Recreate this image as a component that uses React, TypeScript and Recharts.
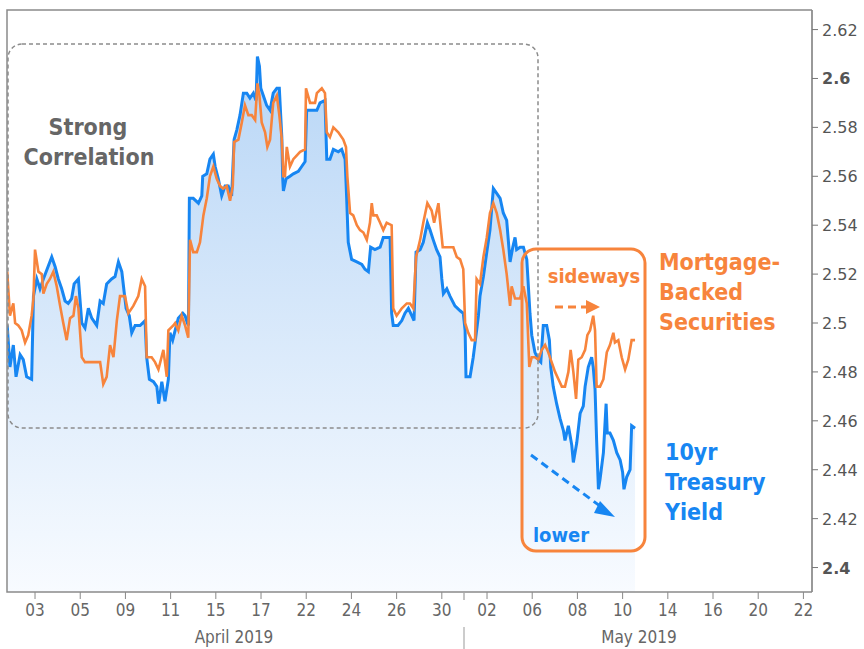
import { ComposedChart, Area, Line, XAxis, YAxis } from 'recharts';

// trading-day labels, index 0 = Apr 1 2019 (Good Friday Apr 19 closed)
const tradingDays = [
  '01', '02', '03', '04', '05', '08', '09', '10', '11', '12',
  '15', '16', '17', '18', '22', '23', '24', '25', '26', '29', '30',
  '01', '02', '03', '06', '07', '08', '09', '10', '13', '14', '15', '16', '17', '20', '21', '22',
];
const dayTicks = [2, 4, 6, 8, 10, 12, 14, 16, 18, 20, 22, 24, 26, 28, 30, 32, 34, 36];
const yieldTicks = [2.4, 2.42, 2.44, 2.46, 2.48, 2.5, 2.52, 2.54, 2.56, 2.58, 2.6, 2.62];

// 10yr Treasury yield (position in trading days, yield)
const tsyTime = [
  0.77, 0.89, 1.04, 1.16, 1.34, 1.48, 1.63, 1.85, 1.93, 2.08, 2.22, 2.37, 2.74, 2.89, 3.03, 3.18,
  3.33, 3.47, 3.62, 3.73, 3.92, 4.07, 4.21, 4.36, 4.51, 4.73, 4.88, 5.02, 5.17, 5.39, 5.54, 5.69,
  5.84, 5.94, 6.03, 6.17, 6.28, 6.43, 6.65, 6.87, 6.94, 7.06, 7.24, 7.39, 7.47, 7.61, 7.75, 7.9,
  7.97, 8.09, 8.2, 8.34, 8.54, 8.64, 8.74, 8.79, 8.83, 9.0, 9.23, 9.38, 9.42, 9.6, 9.74, 9.89,
  9.97, 10.11, 10.26, 10.41, 10.55, 10.7, 10.81, 10.93, 11.07, 11.22, 11.37, 11.51, 11.66, 11.78,
  11.84, 11.93, 11.99, 12.1, 12.25, 12.4, 12.54, 12.7, 12.81, 12.87, 12.92, 12.96, 12.99, 13.11,
  13.28, 13.43, 13.65, 13.8, 13.95, 14.02, 14.24, 14.47, 14.61, 14.83, 14.91, 15.05, 15.2, 15.42,
  15.57, 15.72, 15.79, 15.86, 16.01, 16.24, 16.46, 16.6, 16.75, 16.85, 17.04, 17.27, 17.41, 17.71,
  17.78, 17.85, 18.06, 18.23, 18.37, 18.52, 18.67, 18.77, 18.86, 19.04, 19.18, 19.36, 19.48, 19.62,
  19.77, 19.92, 20.0, 20.07, 20.22, 20.36, 20.58, 20.81, 20.95, 21.03, 21.07, 21.25, 21.39, 21.54,
  21.62, 21.69, 21.84, 21.99, 22.13, 22.28, 22.43, 22.58, 22.72, 22.87, 23.02, 23.14, 23.24, 23.31,
  23.46, 23.61, 23.76, 23.9, 23.98, 24.12, 24.27, 24.38, 24.49, 24.64, 24.76, 24.82, 24.93, 25.08,
  25.23, 25.38, 25.45, 25.6, 25.75, 25.82, 25.97, 26.12, 26.26, 26.34, 26.48, 26.63, 26.7, 26.78,
  26.85, 26.93, 27.0, 27.15, 27.27, 27.32, 27.44, 27.59, 27.74, 27.89, 28.0, 28.06, 28.18, 28.33,
  28.4, 28.55,
];
const tsyYield = [
  2.499, 2.482, 2.491, 2.478, 2.487, 2.485, 2.478, 2.477, 2.511, 2.518, 2.514, 2.518, 2.527, 2.523, 2.518, 2.514,
  2.509, 2.508, 2.51, 2.516, 2.518, 2.5, 2.498, 2.506, 2.502, 2.499, 2.509, 2.508, 2.516, 2.518, 2.519, 2.525,
  2.521, 2.513, 2.506, 2.503, 2.496, 2.499, 2.499, 2.501, 2.486, 2.477, 2.476, 2.474, 2.467, 2.476, 2.468, 2.477,
  2.496, 2.493, 2.497, 2.502, 2.504, 2.503, 2.5, 2.499, 2.551, 2.551, 2.549, 2.552, 2.56, 2.561, 2.567, 2.569,
  2.564, 2.559, 2.552, 2.556, 2.556, 2.552, 2.575, 2.579, 2.585, 2.594, 2.594, 2.592, 2.594, 2.591,
  2.609, 2.605, 2.596, 2.593, 2.589, 2.587, 2.594, 2.596, 2.596, 2.585, 2.576, 2.559, 2.554, 2.559,
  2.56, 2.561, 2.562, 2.564, 2.566, 2.587, 2.587, 2.587, 2.59, 2.591, 2.567, 2.567, 2.571, 2.57,
  2.571, 2.567, 2.551, 2.533, 2.526, 2.525, 2.524, 2.522, 2.521, 2.531, 2.53, 2.531, 2.535, 2.535,
  2.504, 2.499, 2.499, 2.501, 2.504, 2.506, 2.503, 2.501, 2.529, 2.53, 2.533, 2.541, 2.538, 2.534,
  2.53, 2.527, 2.518, 2.512, 2.514, 2.511, 2.507, 2.505, 2.504, 2.497, 2.478, 2.478, 2.486, 2.497,
  2.503, 2.511, 2.519, 2.529, 2.538, 2.555, 2.553, 2.551, 2.545, 2.542, 2.525, 2.531, 2.535, 2.53,
  2.531, 2.531, 2.526, 2.504, 2.495, 2.488, 2.485, 2.484, 2.499, 2.499, 2.493, 2.482, 2.474, 2.467,
  2.461, 2.456, 2.452, 2.458, 2.45, 2.443, 2.451, 2.463, 2.466, 2.474, 2.482, 2.486, 2.482, 2.473,
  2.452, 2.432, 2.436, 2.447, 2.467, 2.455, 2.455, 2.452, 2.447, 2.444, 2.439, 2.432, 2.437, 2.44,
  2.458, 2.457,
];

// Mortgage-backed securities (same scale)
const mbsTime = [
  0.77, 0.89, 1.04, 1.12, 1.26, 1.41, 1.56, 1.7, 1.85, 1.93, 2.0, 2.15, 2.3, 2.37, 2.52, 2.66,
  2.81, 2.96, 3.11, 3.25, 3.4, 3.55, 3.7, 3.81, 3.92, 4.07, 4.21, 4.43, 4.88, 5.02, 5.17, 5.32,
  5.47, 5.62, 5.76, 5.98, 6.13, 6.35, 6.57, 6.72, 6.87, 6.94, 7.16, 7.31, 7.46, 7.68, 7.83, 7.9,
  8.12, 8.2, 8.34, 8.49, 8.64, 8.78, 8.86, 9.0, 9.16, 9.3, 9.45, 9.6, 9.74, 9.89, 10.04, 10.19,
  10.33, 10.48, 10.63, 10.75, 10.81, 11.0, 11.15, 11.29, 11.44, 11.59, 11.74, 11.84, 11.93, 12.03,
  12.18, 12.28, 12.4, 12.54, 12.7, 12.81, 12.92, 12.99, 13.06, 13.14, 13.28, 13.43, 13.73, 13.95,
  13.99, 14.17, 14.39, 14.47, 14.69, 14.83, 14.91, 15.05, 15.2, 15.42, 15.64, 15.76, 15.82, 15.94,
  16.08, 16.24, 16.38, 16.53, 16.68, 16.82, 16.9, 16.97, 17.12, 17.27, 17.41, 17.56, 17.78, 17.85,
  18.0, 18.23, 18.45, 18.59, 18.74, 18.86, 19.04, 19.18, 19.36, 19.55, 19.66, 19.85, 19.92, 20.04,
  20.22, 20.51, 20.66, 20.81, 20.95, 21.03, 21.17, 21.32, 21.47, 21.54, 21.69, 21.84, 21.99, 22.13,
  22.28, 22.43, 22.58, 22.72, 22.87, 23.02, 23.09, 23.24, 23.46, 23.61, 23.76, 23.87, 23.98, 24.12,
  24.27, 24.42, 24.57, 24.71, 24.86, 25.01, 25.16, 25.31, 25.45, 25.6, 25.7, 25.82, 25.94, 26.04,
  26.19, 26.34, 26.44, 26.56, 26.7, 26.78, 26.85, 27.0, 27.15, 27.3, 27.44, 27.59, 27.66, 27.81,
  27.96, 28.11, 28.25, 28.4, 28.55,
];
const mbsLevel = [
  2.521, 2.503, 2.508, 2.5, 2.499, 2.497, 2.492, 2.495, 2.503, 2.51, 2.53, 2.521, 2.52, 2.512, 2.516, 2.518,
  2.521, 2.515, 2.507, 2.5, 2.493, 2.502, 2.503, 2.511, 2.506, 2.486, 2.484, 2.484, 2.484, 2.475, 2.478, 2.491,
  2.486, 2.501, 2.511, 2.511, 2.504, 2.507, 2.511, 2.518, 2.515, 2.486, 2.486, 2.484, 2.481, 2.489, 2.478, 2.497,
  2.499, 2.5, 2.497, 2.503, 2.499, 2.494, 2.534, 2.529, 2.529, 2.533, 2.544, 2.551, 2.56, 2.564, 2.559, 2.556,
  2.555, 2.556, 2.55, 2.556, 2.574, 2.575, 2.582, 2.589, 2.585, 2.585, 2.583, 2.598, 2.593, 2.582,
  2.578, 2.572, 2.575, 2.59, 2.593, 2.585, 2.575, 2.56, 2.56, 2.572, 2.564, 2.567, 2.57, 2.571,
  2.596, 2.59, 2.59, 2.594, 2.596, 2.594, 2.578, 2.576, 2.58, 2.578, 2.575, 2.572, 2.56, 2.545,
  2.544, 2.54, 2.538, 2.537, 2.534, 2.541, 2.549, 2.544, 2.544, 2.541, 2.538, 2.541, 2.54, 2.506,
  2.503, 2.506, 2.508, 2.508, 2.506, 2.527, 2.534, 2.541, 2.549, 2.546, 2.541, 2.549, 2.542, 2.531,
  2.531, 2.531, 2.527, 2.526, 2.522, 2.5, 2.496, 2.493, 2.493, 2.518, 2.516, 2.527, 2.535, 2.545,
  2.549, 2.545, 2.538, 2.53, 2.52, 2.507, 2.515, 2.51, 2.51, 2.515, 2.508, 2.482, 2.486, 2.486,
  2.485, 2.489, 2.491, 2.488, 2.484, 2.48, 2.477, 2.474, 2.474, 2.48, 2.489, 2.48, 2.469, 2.485,
  2.486, 2.489, 2.495, 2.497, 2.503, 2.497, 2.474, 2.474, 2.477, 2.488, 2.491, 2.496, 2.492, 2.493,
  2.486, 2.481, 2.485, 2.493, 2.493,
];

const tsyData = tsyTime.map((t, i) => ({ t, v: tsyYield[i] }));
const mbsData = mbsTime.map((t, i) => ({ t, v: mbsLevel[i] }));

const BLUE = '#1786f2';
const ORANGE = '#f7843c';
const AXIS_FONT = "'DejaVu Sans', sans-serif";
const NARROW_FONT = "'DejaVu Sans Condensed', 'Liberation Sans Narrow', 'DejaVu Sans', sans-serif";
const LABEL_FONT = "'DejaVu Sans Condensed', 'DejaVu Sans', sans-serif";

const YTick = (props: any) => {
  const { x, y, payload } = props;
  const v = Number(payload.value.toFixed(2));
  const bold = v === 2.6 || v === 2.4;
  return (
    <text x={x} y={y} dy={6} textAnchor="start" fill="#555" fontSize={16}
      fontFamily={AXIS_FONT} fontWeight={bold ? 'bold' : 'normal'}>
      {String(v)}
    </text>
  );
};

const XTick = (props: any) => {
  const { x, y, payload } = props;
  return (
    <text x={x} y={y} dy={13} textAnchor="middle" fill="#666" fontSize={17}
      fontFamily={NARROW_FONT} style={{ fontStretch: 'condensed' }}>
      {tradingDays[payload.value]}
    </text>
  );
};

export default function App() {
  return (
    <div style={{ position: 'relative', width: 864, height: 649, background: '#fff' }}>
      <style>{'body{margin:0}'}</style>
      <ComposedChart width={864} height={649} margin={{ top: 10, right: 0, bottom: 0, left: 7 }}>
        <defs>
          <linearGradient id="tsyFill" x1="0" y1="0" x2="0" y2="1">
            <stop offset="0%" stopColor="#b8d6f6" />
            <stop offset="100%" stopColor="#f8fbff" />
          </linearGradient>
        </defs>
        <XAxis type="number" dataKey="t" domain={[0.76, 36.38]} allowDataOverflow
          ticks={dayTicks} tick={<XTick />} tickSize={7} tickMargin={4}
          axisLine={false} tickLine={{ stroke: '#888' }} height={57} />
        <YAxis orientation="right" type="number" domain={[2.39, 2.628]} allowDataOverflow
          ticks={yieldTicks} tick={<YTick />} tickSize={6} tickMargin={4}
          axisLine={{ stroke: '#777', strokeWidth: 1.5 }} tickLine={{ stroke: '#777' }} width={52} />
        <Area data={tsyData} dataKey="v" type="linear" stroke={BLUE} strokeWidth={3}
          fill="url(#tsyFill)" fillOpacity={1} isAnimationActive={false} dot={false} activeDot={false} />
        <Line data={mbsData} dataKey="v" type="linear" stroke={ORANGE} strokeWidth={2.6}
          isAnimationActive={false} dot={false} activeDot={false} />
      </ComposedChart>

      <svg width={864} height={649} style={{ position: 'absolute', left: 0, top: 0, pointerEvents: 'none' }}>
        {/* plot frame */}
        <path d="M812,10 H7 V592 H812" fill="none" stroke="#8a8a8a" strokeWidth={1.5} />

        {/* strong correlation box */}
        <rect x={8} y={44} width={530} height={384} rx={14} fill="none" stroke="#8c8c8c"
          strokeWidth={1.5} strokeDasharray="4 3" />
        <text x={88} y={135} textAnchor="middle" fill="#666" fontSize={23} fontWeight="bold"
          fontFamily={LABEL_FONT} style={{ fontStretch: 'condensed' }}>Strong</text>
        <text x={89} y={165} textAnchor="middle" fill="#666" fontSize={23} fontWeight="bold"
          fontFamily={LABEL_FONT} style={{ fontStretch: 'condensed' }}>Correlation</text>

        {/* divergence box */}
        <rect x={522} y={249} width={123} height={302} rx={14} fill="none" stroke={ORANGE} strokeWidth={3} />
        <text x={594} y={283} textAnchor="middle" fill={ORANGE} fontSize={20} fontWeight="bold"
          fontFamily={LABEL_FONT} style={{ fontStretch: 'condensed' }}>sideways</text>
        <line x1={555} y1={307} x2={588} y2={307} stroke={ORANGE} strokeWidth={3} strokeDasharray="8 5" />
        <path d="M586,300 L600,307 L586,314 Z" fill={ORANGE} />
        <line x1={531} y1={455} x2={604} y2={509} stroke={BLUE} strokeWidth={3} strokeDasharray="8 5" />
        <path d="M600,501 L615,517 L594,513 Z" fill={BLUE} />
        <text x={561} y={542} textAnchor="middle" fill={BLUE} fontSize={20} fontWeight="bold"
          fontFamily={LABEL_FONT} style={{ fontStretch: 'condensed' }}>lower</text>

        {/* series labels */}
        <g fill={ORANGE} fontSize={23} fontWeight="bold" fontFamily={LABEL_FONT} style={{ fontStretch: 'condensed' }}>
          <text x={659} y={270}>Mortgage-</text>
          <text x={659} y={300}>Backed</text>
          <text x={659} y={330}>Securities</text>
        </g>
        <g fill={BLUE} fontSize={23} fontWeight="bold" fontFamily={LABEL_FONT} style={{ fontStretch: 'condensed' }}>
          <text x={665} y={460}>10yr</text>
          <text x={665} y={490}>Treasury</text>
          <text x={665} y={520}>Yield</text>
        </g>

        {/* month labels */}
        <line x1={464} y1={593} x2={464} y2={600} stroke="#888" />
        <line x1={464} y1={627} x2={464} y2={649} stroke="#999" />
        <text x={234} y={643} textAnchor="middle" fill="#666" fontSize={17}
          fontFamily={NARROW_FONT} style={{ fontStretch: 'condensed' }}>April 2019</text>
        <text x={639} y={643} textAnchor="middle" fill="#666" fontSize={17}
          fontFamily={NARROW_FONT} style={{ fontStretch: 'condensed' }}>May 2019</text>
      </svg>
    </div>
  );
}
